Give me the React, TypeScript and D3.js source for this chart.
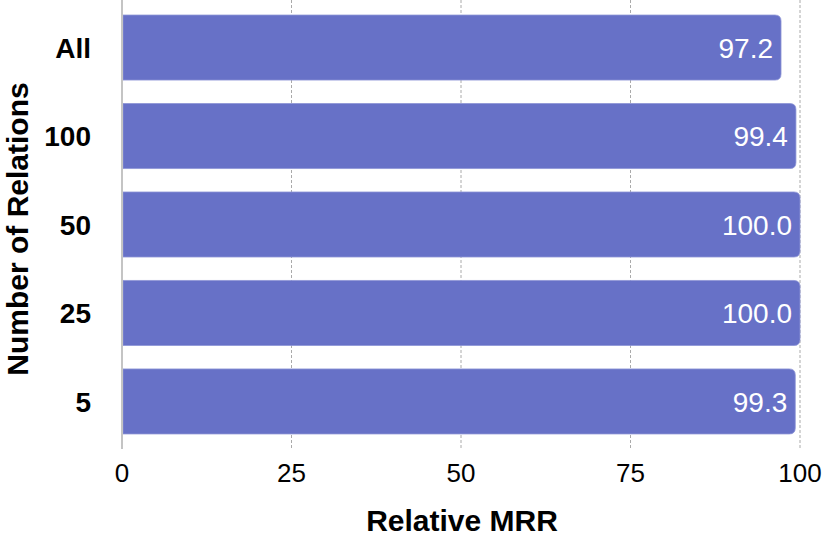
import React, { useEffect, useRef } from 'react'
import * as d3 from 'd3'

const categories = ['All', '100', '50', '25', '5']
const values = [97.2, 99.4, 100.0, 100.0, 99.3]
const xTicks = [0, 25, 50, 75, 100]

const WIDTH = 822
const HEIGHT = 536
const margin = { top: 0, right: 22, bottom: 87, left: 122 }
const FONT = '"Liberation Sans", Arial, Helvetica, sans-serif'
const BAR = '#6771c7'

export default function App() {
  const svgRef = useRef<SVGSVGElement>(null)

  useEffect(() => {
    if (!svgRef.current) return
    const svg = d3.select(svgRef.current)
    svg.selectAll('*').remove()

    const x = d3
      .scaleLinear()
      .domain([0, 100])
      .range([margin.left, WIDTH - margin.right])

    const y = d3
      .scaleBand()
      .domain(categories)
      .range([margin.top, HEIGHT - margin.bottom])
      .paddingInner(0.265)
      .paddingOuter(0.17)

    const plotBottom = HEIGHT - margin.bottom

    // dashed grid
    svg
      .append('g')
      .selectAll('line')
      .data(xTicks.filter((t) => t > 0))
      .enter()
      .append('line')
      .attr('x1', (d) => x(d))
      .attr('x2', (d) => x(d))
      .attr('y1', 0)
      .attr('y2', plotBottom)
      .attr('stroke', '#aaaaaa')
      .attr('stroke-width', 1)
      .attr('stroke-dasharray', '3,2')

    // bars, square on the left, rounded on the right
    const r = 6
    svg
      .append('g')
      .selectAll('path')
      .data(values)
      .enter()
      .append('path')
      .attr('d', (d, i) => {
        const x0 = x(0) + 1
        const x1 = x(d)
        const y0 = y(categories[i])!
        const h = y.bandwidth()
        return `M${x0},${y0}H${x1 - r}Q${x1},${y0} ${x1},${y0 + r}V${y0 + h - r}Q${x1},${y0 + h} ${x1 - r},${y0 + h}H${x0}Z`
      })
      .attr('fill', BAR)
      .attr('stroke', '#8d94d6')
      .attr('stroke-width', 0.8)

    // zero axis line
    svg
      .append('line')
      .attr('x1', x(0))
      .attr('x2', x(0))
      .attr('y1', 0)
      .attr('y2', plotBottom)
      .attr('stroke', '#c4c4c4')
      .attr('stroke-width', 2)

    // value labels
    svg
      .append('g')
      .selectAll('text')
      .data(values)
      .enter()
      .append('text')
      .attr('x', (d) => x(d) - 8)
      .attr('y', (_, i) => y(categories[i])! + y.bandwidth() / 2)
      .attr('dy', '0.36em')
      .attr('text-anchor', 'end')
      .attr('fill', '#ffffff')
      .style('font-family', FONT)
      .style('font-size', '28px')
      .text((d) => d.toFixed(1))

    // y category labels
    svg
      .append('g')
      .selectAll('text')
      .data(categories)
      .enter()
      .append('text')
      .attr('x', 91)
      .attr('y', (d) => y(d)! + y.bandwidth() / 2)
      .attr('dy', '0.36em')
      .attr('text-anchor', 'end')
      .attr('fill', '#000')
      .style('font-family', FONT)
      .style('font-weight', 'bold')
      .style('font-size', '28px')
      .text((d) => d)

    // x tick labels
    svg
      .append('g')
      .selectAll('text')
      .data(xTicks)
      .enter()
      .append('text')
      .attr('x', (d) => x(d))
      .attr('y', 482)
      .attr('text-anchor', 'middle')
      .attr('fill', '#000')
      .style('font-family', FONT)
      .style('font-size', '26px')
      .text((d) => String(d))

    // axis titles
    svg
      .append('text')
      .attr('x', 462)
      .attr('y', 531)
      .attr('text-anchor', 'middle')
      .style('font-family', FONT)
      .style('font-weight', 'bold')
      .style('font-size', '30px')
      .text('Relative MRR')

    svg
      .append('text')
      .attr('transform', `translate(28,229) rotate(-90)`)
      .attr('text-anchor', 'middle')
      .style('font-family', FONT)
      .style('font-weight', 'bold')
      .style('font-size', '30px')
      .text('Number of Relations')
  }, [])

  return (
    <svg
      ref={svgRef}
      width={WIDTH}
      height={HEIGHT}
      style={{ position: 'absolute', left: 0, top: 0, background: '#fff' }}
    />
  )
}
